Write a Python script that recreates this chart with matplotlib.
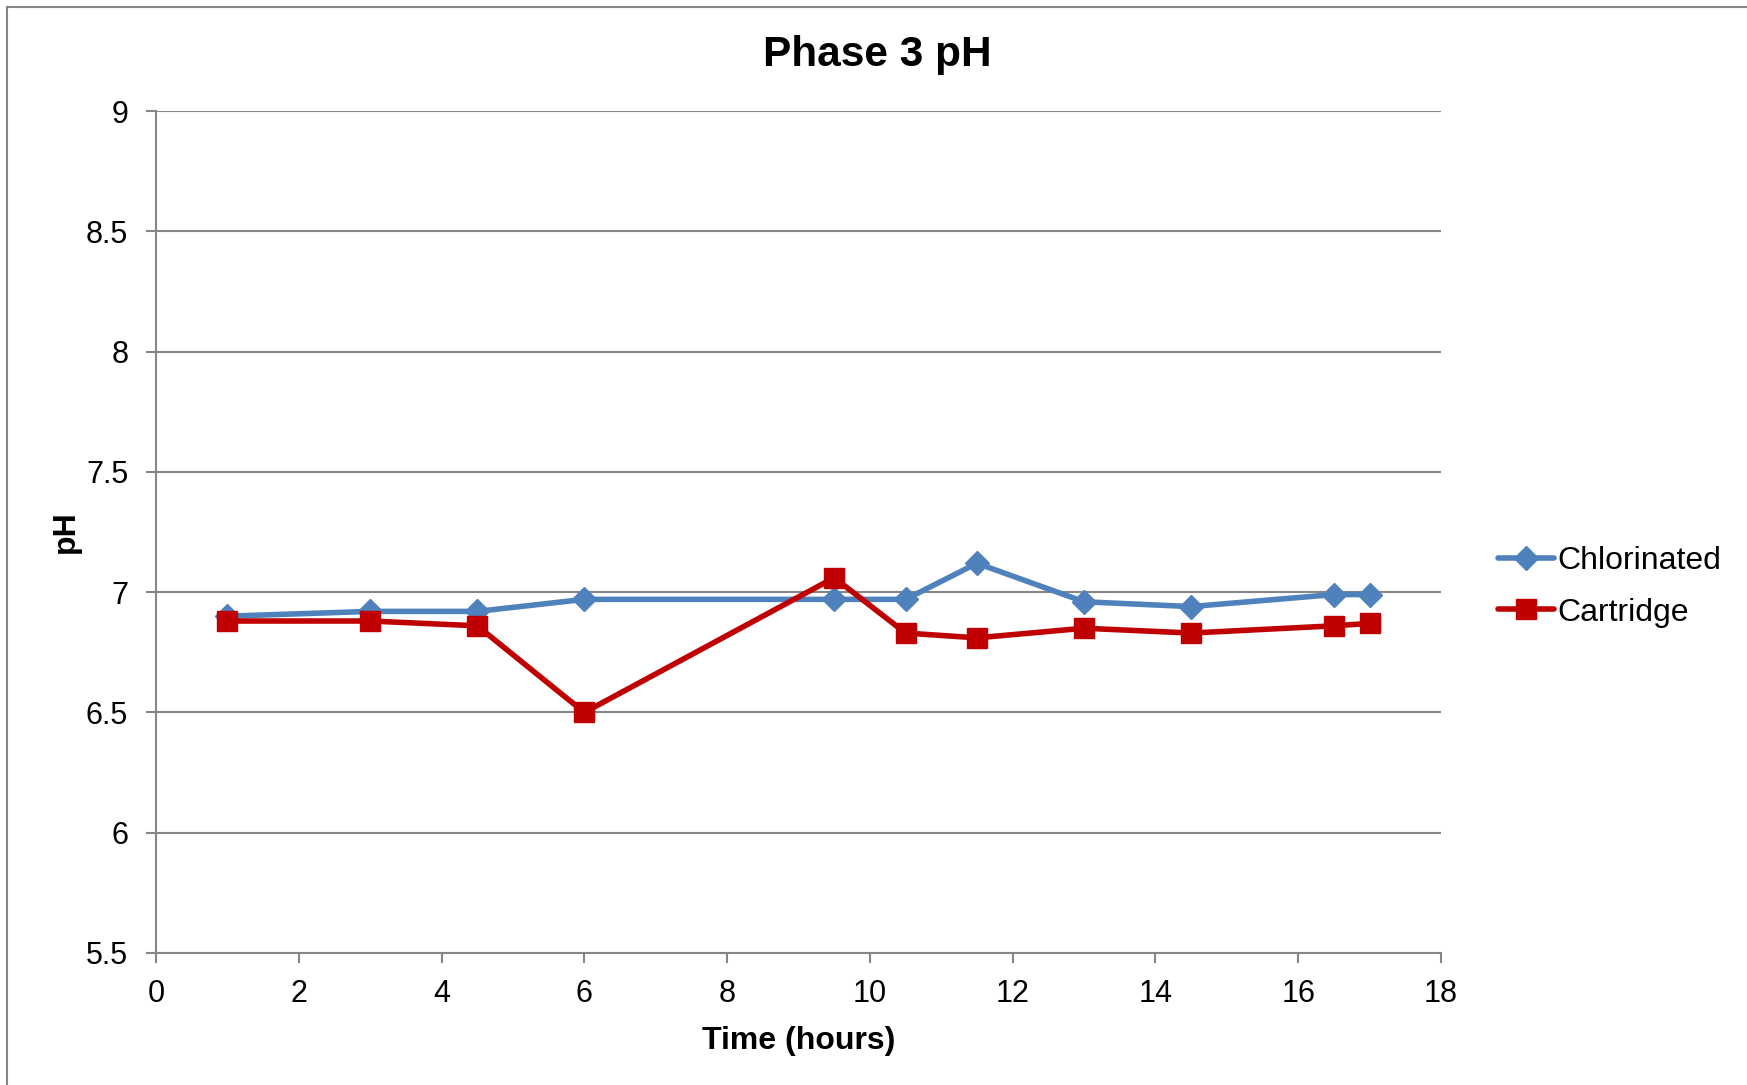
import numpy as np
import matplotlib
matplotlib.use("Agg")
import matplotlib.pyplot as plt
from matplotlib.patches import Rectangle

plt.rcParams['font.family'] = ['Liberation Sans', 'DejaVu Sans']

# data
hours = [1, 3, 4.5, 6, 9.5, 10.5, 11.5, 13, 14.5, 16.5, 17]
chlorinated = [6.90, 6.92, 6.92, 6.97, 6.97, 6.97, 7.12, 6.96, 6.94, 6.99, 6.99]
cartridge = [6.88, 6.88, 6.86, 6.50, 7.06, 6.83, 6.81, 6.85, 6.83, 6.86, 6.87]
x_ticks = np.arange(0, 19, 2)
y_ticks = np.arange(5.5, 9.01, 0.5)

grey = '#868686'

fig = plt.figure(figsize=(17.47, 10.85), dpi=100)
ax = fig.add_axes([156 / 1747, 1 - 953 / 1085, (1441 - 156) / 1747, (953 - 111) / 1085])

ax.plot(hours, chlorinated, color='#4F81BD', lw=4, marker='D', ms=12,
        label='Chlorinated', solid_capstyle='round')
ax.plot(hours, cartridge, color='#C00000', lw=4, marker='s', ms=14,
        label='Cartridge', solid_capstyle='round')

ax.set_xlim(0, 18)
ax.set_ylim(5.5, 9)
ax.set_xticks(x_ticks)
ax.set_yticks(y_ticks)
ax.set_yticklabels([f'{v:g}' for v in y_ticks])
ax.yaxis.grid(True, color=grey, lw=1.5)
ax.set_axisbelow(True)
for s in ['top', 'right']:
    ax.spines[s].set_visible(False)
for s in ['left', 'bottom']:
    ax.spines[s].set_color(grey)
    ax.spines[s].set_linewidth(1.5)
ax.tick_params(axis='both', direction='out', length=7, width=1.5, color=grey,
               labelsize=22)
ax.tick_params(axis='y', pad=13)
ax.tick_params(axis='x', pad=12)

ax.set_xlabel('Time (hours)', fontsize=23, fontweight='bold', labelpad=12)
ax.set_ylabel('pH', fontsize=23, fontweight='bold', labelpad=4)
fig.text(877 / 1747, 1 - 55 / 1085, 'Phase 3 pH', fontsize=30.5, fontweight='bold',
         ha='center', va='center')

ax.legend(loc='center left', bbox_to_anchor=(1498 / 1747, 1 - 587 / 1085),
          bbox_transform=fig.transFigure, frameon=False, fontsize=23,
          handlelength=1.75, handletextpad=0.12, borderpad=0, borderaxespad=0,
          labelspacing=0.66)

# chart border (only top and left edges fall inside the picture)
fig.patches.append(Rectangle((7 / 1747, -0.1), 1.2, 1 - 7 / 1085 + 0.1,
                             transform=fig.transFigure, fill=False,
                             edgecolor=grey, lw=1.5))

fig.savefig('out.png', dpi=100)
